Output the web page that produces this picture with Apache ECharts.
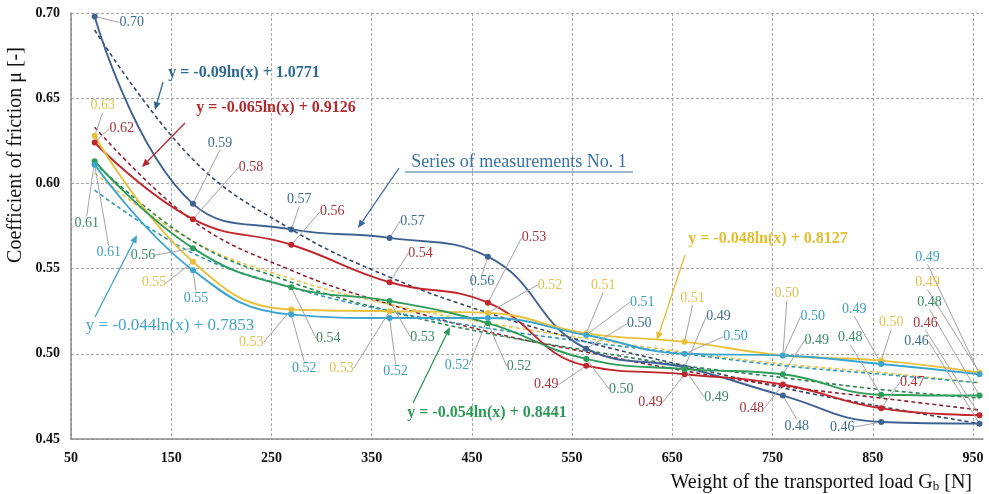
<!DOCTYPE html>
<html><head><meta charset="utf-8">
<script src="https://cdn.jsdelivr.net/npm/echarts@6/dist/echarts.min.js"></script>
<style>html,body{margin:0;padding:0;background:#fff}#c{width:989px;height:494px}</style>
</head><body><div id="c"></div>
<script>
// ---- data ----
const loads = [73.6, 171.7, 269.8, 367.9, 466.0, 564.1, 662.2, 760.3, 858.4, 956.5];
const xTicks = [50, 150, 250, 350, 450, 550, 650, 750, 850, 950];
const yTicks = [0.45, 0.50, 0.55, 0.60, 0.65, 0.70];
const series1 = [0.698, 0.588, 0.573, 0.568, 0.557, 0.503, 0.492, 0.4755, 0.460, 0.459]; // blue
const series2 = [0.624, 0.579, 0.564, 0.542, 0.530, 0.493, 0.488, 0.482, 0.468, 0.464]; // red
const series3 = [0.628, 0.554, 0.526, 0.525, 0.524, 0.512, 0.507, 0.499, 0.496, 0.489]; // yellow
const series4 = [0.613, 0.562, 0.539, 0.531, 0.518, 0.497, 0.491, 0.488, 0.476, 0.4755]; // green
const series5 = [0.611, 0.549, 0.523, 0.521, 0.521, 0.511, 0.500, 0.499, 0.494, 0.488]; // cyan
// logarithmic trend lines
const trend1 = [0.690, 0.614, 0.573, 0.545, 0.524, 0.507, 0.493, 0.480, 0.469, 0.459];
const trend2 = [0.633, 0.578, 0.549, 0.529, 0.513, 0.501, 0.490, 0.481, 0.474, 0.467];
const trend3 = [0.606, 0.566, 0.544, 0.529, 0.518, 0.509, 0.501, 0.494, 0.489, 0.483];
const trend4 = [0.612, 0.566, 0.542, 0.525, 0.512, 0.502, 0.493, 0.486, 0.479, 0.474];
const trend5 = [0.596, 0.559, 0.539, 0.525, 0.515, 0.507, 0.500, 0.493, 0.488, 0.483];
const equations = ['y = -0.09ln(x) + 1.0771', 'y = -0.065ln(x) + 0.9126', 'y = -0.048ln(x) + 0.8127', 'y = -0.054ln(x) + 0.8441', 'y = -0.044ln(x) + 0.7853'];
const seriesNote = 'Series of measurements No. 1';

// ---- styling / layout ----
const lineColors = ['#3E6393', '#C0262B', '#E8C03A', '#2E9C5A', '#3AA6CF'];
const labelColors = ['#3F6E8E', '#A8333A', '#E0C152', '#3C8C62', '#3F9DC2'];
const trendColors = ['#34466A', '#8E2331', '#E6C64A', '#2F8350', '#3196BE'];
const labelOffsets = [
  [[37,6],[27,-61],[8,-30],[23,-17],[-6,25],[53,-25],[34,-51],[14,31],[-39,5],[-63,-82]],
  [[27,-14],[58,-52],[41,-33],[31,-29],[46,-65],[-40,19],[-34,28],[-31,24],[31,-26],[-54,-92]],
  [[8,-30],[-39,21],[-40,33],[-48,57],[62,-28],[17,-48],[8,-44],[4,-62],[10,-38],[-52,-90]],
  [[-8,62],[-50,7],[37,51],[33,36],[31,43],[35,30],[32,28],[34,-34],[-31,-57],[-50,-93]],
  [[14,88],[3,28],[13,54],[6,53],[-31,47],[56,-33],[51,-17],[30,-39],[-27,-55],[-52,-117]]
];
const SERIF = '"Liberation Serif", "Times New Roman", serif';

const dataSets = [series1, series2, series3, series4, series5];
const trendSets = [trend1, trend2, trend3, trend4, trend5];

const series = [];
trendSets.forEach((t, i) => {
  series.push({
    type: 'line', smooth: 0.4, symbol: 'none', silent: true, z: 3,
    data: loads.map((x, k) => [x, t[k]]),
    lineStyle: { color: trendColors[i], width: 1.6, type: [4, 3] }
  });
});
dataSets.forEach((d, i) => {
  const offs = labelOffsets[i];
  series.push({
    type: 'line', smooth: 0.45, symbol: 'circle', symbolSize: 6, z: 4,
    data: loads.map((x, k) => [x, d[k]]),
    lineStyle: { color: lineColors[i], width: 1.9 },
    itemStyle: { color: lineColors[i] },
    label: {
      show: true, color: labelColors[i], fontFamily: SERIF, fontSize: 14,
      formatter: p => p.value[1].toFixed(2)
    },
    labelLine: { show: true, lineStyle: { color: '#a3a3a3', width: 1 } },
    labelLayout: function (p) {
      const o = offs[p.dataIndex];
      const cx = p.rect.x + p.rect.width / 2, cy = p.rect.y + p.rect.height / 2;
      return { x: cx + o[0], y: cy + o[1], align: 'center', verticalAlign: 'middle' };
    }
  });
});

function arrow(x1, y1, x2, y2, color) {
  const a = Math.atan2(y2 - y1, x2 - x1), L = 8, W = 3.5;
  const bx = x2 - L * Math.cos(a), by = y2 - L * Math.sin(a);
  const px = -Math.sin(a) * W, py = Math.cos(a) * W;
  return [
    { type: 'line', z: 100, shape: { x1: x1, y1: y1, x2: bx, y2: by }, style: { stroke: color, lineWidth: 1.3 } },
    { type: 'polygon', z: 100, shape: { points: [[x2, y2], [bx + px, by + py], [bx - px, by - py]] }, style: { fill: color } }
  ];
}
function txt(x, y, text, color, font, align) {
  return { type: 'text', z: 100, x: x, y: y, style: { text: text, fill: color, font: font, align: align || 'center', verticalAlign: 'middle' } };
}

const graphic = [].concat(
  [txt(244, 73, equations[0], '#2D6A93', 'bold 16px ' + SERIF)],
  arrow(163, 82, 155, 110, '#2D6A93'),
  [txt(276, 108, equations[1], '#B22A2E', 'bold 16px ' + SERIF)],
  arrow(185, 123, 142, 167, '#B22A2E'),
  [txt(519, 162, seriesNote, '#3A72A4', '18px ' + SERIF),
   { type: 'line', z: 100, shape: { x1: 405, y1: 172, x2: 633, y2: 172 }, style: { stroke: '#3A72A4', lineWidth: 1 } }],
  arrow(399, 168, 358, 228, '#3A66A8'),
  [txt(768, 239, equations[2], '#E3BE30', 'bold 16px ' + SERIF)],
  arrow(685, 255, 657, 340, '#E3BE30'),
  [txt(487, 413, equations[3], '#2E9A5A', 'bold 16px ' + SERIF)],
  arrow(413, 403, 450, 327, '#2E9A5A'),
  [txt(170, 326, equations[4], '#45A6C6', '17px ' + SERIF)],
  arrow(95, 317, 137, 235, '#45A6C6'),
  [{ type: 'text', z: 100, x: 16, y: 155, rotation: Math.PI / 2,
     style: { text: 'Coefficient of friction μ [-]', fill: '#111', font: '20px ' + SERIF, align: 'center', verticalAlign: 'middle' } },
   { type: 'text', z: 100, x: 972, y: 483,
     style: { text: 'Weight of the transported load G{sub|b} [N]', fill: '#111', font: '20px ' + SERIF,
              fontFamily: SERIF, fontSize: 20, align: 'right', verticalAlign: 'middle',
              rich: { sub: { fontFamily: SERIF, fontSize: 13, lineHeight: 10, verticalAlign: 'bottom', fill: '#111' } } } }]
);

const gridGray = '#a8a8a8';
const chart = echarts.init(document.getElementById('c'));
chart.setOption({
  animation: false,
  backgroundColor: '#fff',
  grid: { left: 71, right: 6, top: 13, bottom: 55 },
  xAxis: {
    type: 'value', min: 50, max: 960, interval: 100,
    axisLine: { show: true, lineStyle: { color: '#8a8a8a', width: 1.5 } },
    axisTick: { show: false },
    splitLine: { show: true, lineStyle: { color: xTicks.map(() => gridGray).concat(['rgba(0,0,0,0)']), width: 1, type: [3, 2] } },
    axisLabel: { margin: 12, color: '#111', fontFamily: SERIF, fontWeight: 'bold', fontSize: 14,
      showMaxLabel: false,
      formatter: v => (xTicks.indexOf(Math.round(v)) >= 0 ? String(Math.round(v)) : '') }
  },
  yAxis: {
    type: 'value', min: yTicks[0], max: yTicks[yTicks.length - 1], interval: 0.05,
    axisLine: { show: true, lineStyle: { color: '#8a8a8a', width: 1.5 } },
    axisTick: { show: false },
    splitLine: { show: true, lineStyle: { color: gridGray, width: 1, type: [3, 2] } },
    axisLabel: { margin: 11, color: '#111', fontFamily: SERIF, fontWeight: 'bold', fontSize: 14,
      formatter: v => v.toFixed(2) }
  },
  graphic: graphic,
  series: series
});
</script></body></html>
